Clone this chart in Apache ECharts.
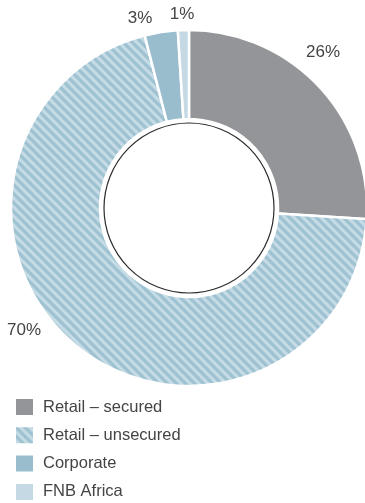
<!DOCTYPE html>
<html>
<head>
<meta charset="utf-8">
<script src="https://cdn.jsdelivr.net/npm/echarts@6/dist/echarts.min.js"></script>
<style>
  html, body { margin: 0; padding: 0; background: #fff; }
  #chart { width: 365px; height: 503px; }
</style>
</head>
<body>
<div id="chart"></div>
<script>
// Advances by segment (% share)
const categories = ['Retail – secured', 'Retail – unsecured', 'Corporate', 'FNB Africa'];
const shares = [26, 70, 3, 1];
const percentLabels = ['26%', '70%', '3%', '1%'];

// Diagonal hatch used for the unsecured retail slice
function hatchPattern() {
  const p = 9;
  const c = document.createElement('canvas');
  c.width = p; c.height = p;
  const g = c.getContext('2d');
  g.fillStyle = '#c5dbe6';
  g.fillRect(0, 0, p, p);
  g.strokeStyle = '#9ec2d2';
  g.lineWidth = 3.2;
  for (const k of [-p, 0, p]) {
    g.beginPath();
    g.moveTo(-2, -2 + k);
    g.lineTo(p + 2, p + 2 + k);
    g.stroke();
  }
  return c;
}

const fills = [
  '#939598',
  { image: hatchPattern(), repeat: 'repeat' },
  '#99bdcd',
  '#c4d9e3'
];

// Label anchor points around the ring (pixels)
const labelSpots = [
  { x: 323, y: 52 },
  { x: 24, y: 330 },
  { x: 140, y: 18 },
  { x: 182, y: 14 }
];

const chart = echarts.init(document.getElementById('chart'), null, { renderer: 'canvas' });
const cx = 189, cy = 208;

chart.setOption({
  animation: false,
  backgroundColor: '#ffffff',
  textStyle: { fontFamily: 'Liberation Sans, Arial, sans-serif' },
  legend: {
    orient: 'vertical',
    left: 14,
    top: 397,
    height: 120,
    padding: 0,
    itemWidth: 19,
    itemHeight: 18,
    itemGap: 8.3,
    icon: 'rect',
    selectedMode: false,
    data: categories,
    textStyle: {
      fontSize: 16.5,
      lineHeight: 18,
      color: '#444444',
      padding: [0, 0, 0, 4]
    }
  },
  series: [{
    type: 'pie',
    center: [cx, cy],
    radius: [89, 178],
    startAngle: 90,
    clockwise: true,
    avoidLabelOverlap: false,
    itemStyle: { borderColor: '#ffffff', borderWidth: 2.5 },
    label: {
      show: true,
      position: 'outside',
      fontSize: 17,
      color: '#444444',
      formatter: p => percentLabels[p.dataIndex]
    },
    labelLine: { show: false },
    labelLayout: p => ({
      x: labelSpots[p.dataIndex].x,
      y: labelSpots[p.dataIndex].y,
      align: 'center',
      verticalAlign: 'middle'
    }),
    emphasis: { disabled: true },
    data: categories.map((name, i) => ({
      name,
      value: shares[i],
      itemStyle: { color: fills[i] }
    }))
  }],
  graphic: [{
    type: 'circle',
    shape: { cx: cx, cy: cy, r: 85 },
    style: { fill: '#ffffff', stroke: '#2b2b2b', lineWidth: 1.2 },
    z: 10
  }]
});
</script>
</body>
</html>
